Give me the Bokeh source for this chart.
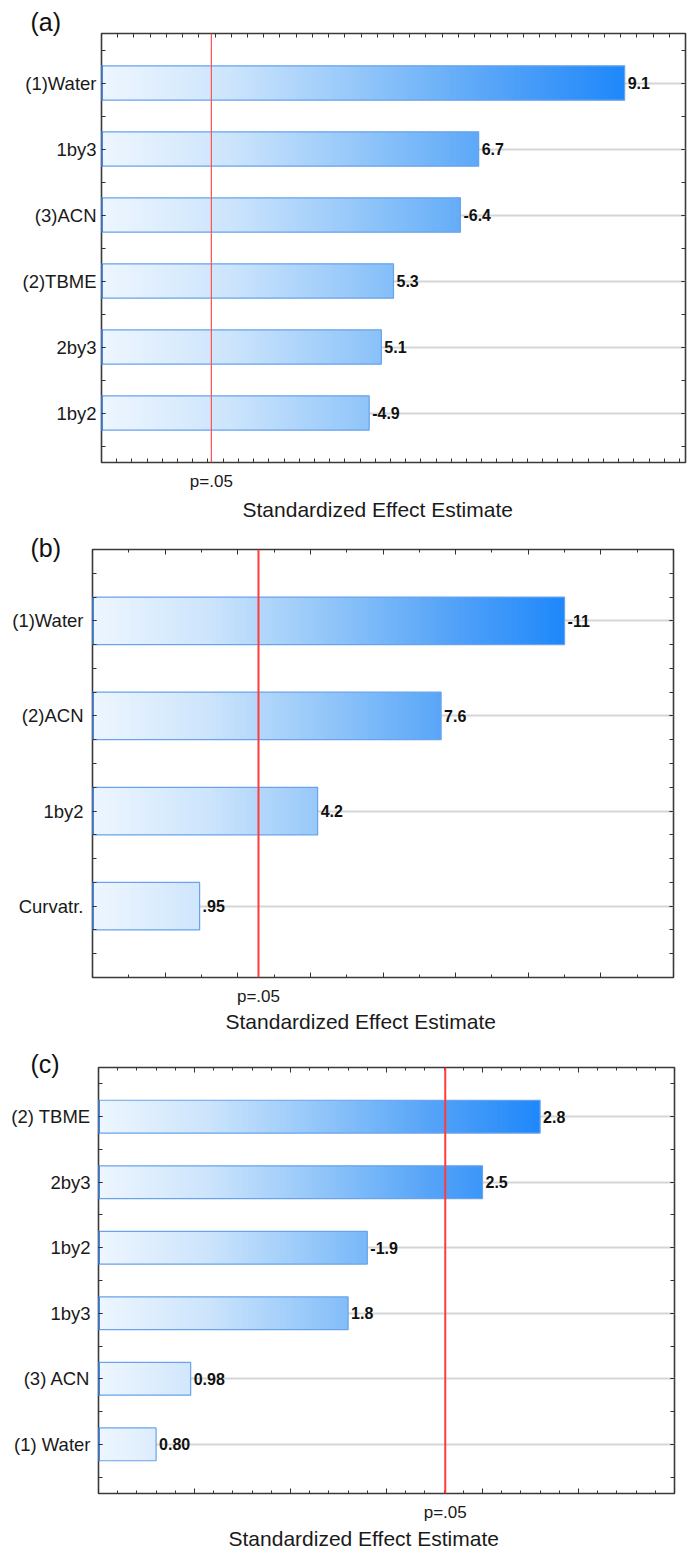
import numpy as np
from bokeh.plotting import figure
from bokeh.layouts import column
from bokeh.models import (Range1d, FixedTicker, SingleIntervalTicker, LinearAxis,
                          Span, Title, CustomJSTickFormatter)
from bokeh.core.properties import value
from bokeh.embed import file_html
from bokeh.resources import INLINE

FONT = "Liberation Sans"

# ---- Pareto chart data (standardized effects, |t| on the x axis) ----
terms_a = ["(1)Water", "1by3", "(3)ACN", "(2)TBME", "2by3", "1by2"]
effects_a = [9.1, 6.7, -6.4, 5.3, 5.1, -4.9]
labels_a = ["9.1", "6.7", "-6.4", "5.3", "5.1", "-4.9"]
p05_a = 2.306

terms_b = ["(1)Water", "(2)ACN", "1by2", "Curvatr."]
effects_b = [-11, 7.6, 4.2, 0.95]
labels_b = ["-11", "7.6", "4.2", ".95"]
p05_b = 2.571

terms_c = ["(2) TBME", "2by3", "1by2", "1by3", "(3) ACN", "(1) Water"]
effects_c = [2.8, 2.5, -1.9, 1.8, 0.98, 0.80]
labels_c = ["2.8", "2.5", "-1.9", "1.8", "0.98", "0.80"]
p05_c = 2.306

# horizontal gradient used for the bars (light at the axis, saturated at the longest bar)
GRAD_STOPS = [(0.0, (238, 246, 255)), (0.25, (204, 228, 252)), (0.5, (146, 198, 249)),
              (0.75, (86, 164, 248)), (1.0, (30, 136, 250))]


def gradient_color(t):
    t = min(max(t, 0.0), 1.0)
    for (t0, c0), (t1, c1) in zip(GRAD_STOPS[:-1], GRAD_STOPS[1:]):
        if t <= t1:
            f = (t - t0) / (t1 - t0)
            rgb = tuple(int(round(a + (b - a) * f)) for a, b in zip(c0, c1))
            return "#%02x%02x%02x" % rgb
    return "#%02x%02x%02x" % GRAD_STOPS[-1][1]


def grid_ticks(lo, hi, step):
    k0 = int(np.ceil(lo / step - 1e-9))
    k1 = int(np.floor(hi / step + 1e-9))
    return [round(k * step, 6) for k in range(k0, k1 + 1)]


def style_axis(ax, major_in, minor_in, blank=True):
    ax.axis_line_color = None
    ax.major_tick_in = major_in
    ax.major_tick_out = 0
    ax.minor_tick_in = minor_in
    ax.minor_tick_out = 0
    ax.major_tick_line_color = "#333333"
    ax.minor_tick_line_color = "#333333"
    if blank:
        ax.formatter = CustomJSTickFormatter(code="return ''")
        ax.major_label_text_font_size = "0px"
        ax.major_label_standoff = 0


def pareto_panel(tag, terms, effects, labels, p05, xlim, height, borders, bar_h,
                 x_major, x_minor, major_in, minor_in, cat_step, standoff,
                 pline_color, pline_width, tag_offset, tag_standoff,
                 title_offset, title_standoff, top_range=None, top_step=None):
    n = len(terms)
    ys = np.arange(1, n + 1, dtype=float)
    mags = np.abs(np.asarray(effects, dtype=float))
    x0 = xlim[0]
    left_b, right_b, top_b, bottom_b = borders

    p = figure(width=687, height=height, x_range=Range1d(*xlim),
               y_range=Range1d(n + 0.75, 0.25), output_backend="svg",
               toolbar_location=None, min_border_left=left_b,
               min_border_right=right_b, min_border_top=top_b,
               min_border_bottom=bottom_b)
    try:
        p.frame_align = False   # each panel keeps its own plot-area margins
    except AttributeError:
        pass
    p.outline_line_color = "#3a3a3a"
    p.outline_line_width = 1.6

    # bottom axis: plain ticks, the only label marks the p=.05 threshold
    majors = grid_ticks(xlim[0], xlim[1], x_major)
    minors = grid_ticks(xlim[0], xlim[1], x_minor) if x_minor else []
    xa = p.xaxis[0]
    xa.ticker = FixedTicker(ticks=majors + [p05], minor_ticks=minors)
    style_axis(xa, major_in, minor_in, blank=False)
    xa.formatter = CustomJSTickFormatter(
        args=dict(crit=p05), code="return Math.abs(tick - crit) < 1e-6 ? 'p=.05' : '';")
    xa.major_label_standoff = 9
    xa.major_label_text_font = FONT
    xa.major_label_text_font_size = "17px"
    xa.major_label_text_color = "#1a1a1a"

    # category axis (left)
    cat_ticker = FixedTicker(ticks=list(ys),
                             minor_ticks=list(np.arange(0.5, n + 0.75, cat_step)))
    ya = p.yaxis[0]
    ya.ticker = cat_ticker
    ya.major_label_overrides = {int(y): t for y, t in zip(ys, terms)}
    style_axis(ya, 4, 4, blank=False)
    ya.major_label_standoff = standoff
    ya.major_label_text_font = FONT
    ya.major_label_text_font_size = "18.5px"
    ya.major_label_text_color = "#1a1a1a"

    # mirrored ticks on the right and top
    ra = LinearAxis(ticker=cat_ticker)
    style_axis(ra, 4, 4)
    p.add_layout(ra, "right")
    if top_range is not None:
        p.extra_x_ranges = {"top": top_range}
        ta = LinearAxis(x_range_name="top",
                        ticker=SingleIntervalTicker(interval=top_step, num_minor_ticks=0))
    else:
        ta = LinearAxis(ticker=FixedTicker(ticks=majors, minor_ticks=minors))
    style_axis(ta, major_in, minor_in)
    p.add_layout(ta, "above")

    p.xgrid.visible = False
    p.ygrid.grid_line_color = "#d6d6d6"
    p.ygrid.grid_line_width = 2

    # gradient bars built from thin slices
    vmax = mags.max()
    edges = np.linspace(x0, vmax, 181)
    step = edges[1] - edges[0]
    L, R, B, T, C = [], [], [], [], []
    for y, m in zip(ys, mags):
        for j in range(len(edges) - 1):
            lft = edges[j]
            if lft >= m:
                break
            rgt = min(edges[j + 1] + 0.4 * step, m)
            L.append(lft)
            R.append(rgt)
            B.append(y + bar_h / 2)
            T.append(y - bar_h / 2)
            C.append(gradient_color((0.5 * (lft + rgt) - x0) / (vmax - x0)))
    p.quad(left=L, right=R, bottom=B, top=T, fill_color=C, line_color=None)
    p.quad(left=[x0] * n, right=mags, bottom=ys + bar_h / 2, top=ys - bar_h / 2,
           fill_color=None, line_color="#68a3ec", line_width=1.2)
    p.segment(x0=[x0] * n, x1=[x0] * n, y0=ys + bar_h / 2, y1=ys - bar_h / 2,
              line_color="#1d5fc0", line_width=2.5)

    # effect values next to the bars
    p.text(x=mags, y=ys, text=labels, x_offset=3, text_align="left",
           text_baseline="middle", text_font=value(FONT), text_font_size="16px",
           text_font_style="bold", text_color="#111111")

    # significance threshold
    p.add_layout(Span(location=p05, dimension="height", line_color=pline_color,
                      line_width=pline_width))

    # axis title below, panel tag above
    p.add_layout(Title(text="Standardized Effect Estimate", align="left",
                       offset=title_offset, standoff=title_standoff,
                       text_font=FONT, text_font_size="21px",
                       text_font_style="normal", text_color="#1a1a1a"), "below")
    p.add_layout(Title(text=tag, align="left", offset=tag_offset,
                       standoff=tag_standoff, text_font=FONT, text_font_size="25px",
                       text_font_style="normal", text_color="#111111"), "above")
    return p


pa = pareto_panel("(a)", terms_a, effects_a, labels_a, p05_a, (0.5, 10.1),
                  height=522, borders=(101, 2, 33, 0), bar_h=0.52,
                  x_major=0.25, x_minor=None, major_in=4, minor_in=4,
                  cat_step=0.5, standoff=5, pline_color="#ff5050", pline_width=1.2,
                  tag_offset=-71, tag_standoff=-5, title_offset=141, title_standoff=4,
                  top_range=Range1d(0, 9), top_step=0.25)

pb = pareto_panel("(b)", terms_b, effects_b, labels_b, p05_b, (-2, 14),
                  height=510, borders=(92, 14, 27, 0), bar_h=0.5,
                  x_major=2, x_minor=1, major_in=5, minor_in=3,
                  cat_step=0.25, standoff=9, pline_color="#ff3b3b", pline_width=2,
                  tag_offset=-62, tag_standoff=-25, title_offset=133, title_standoff=-1)

pc = pareto_panel("(c)", terms_c, effects_c, labels_c, p05_c, (0.5, 3.5),
                  height=517, borders=(98, 13, 35, 0), bar_h=0.5,
                  x_major=0.5, x_minor=0.1, major_in=5, minor_in=3,
                  cat_step=0.5, standoff=8, pline_color="#ff3b3b", pline_width=2,
                  tag_offset=-68, tag_standoff=-20, title_offset=130, title_standoff=0)

layout = column(pa, pb, pc, spacing=0)
open("out.html", "w").write(file_html(layout, INLINE))
